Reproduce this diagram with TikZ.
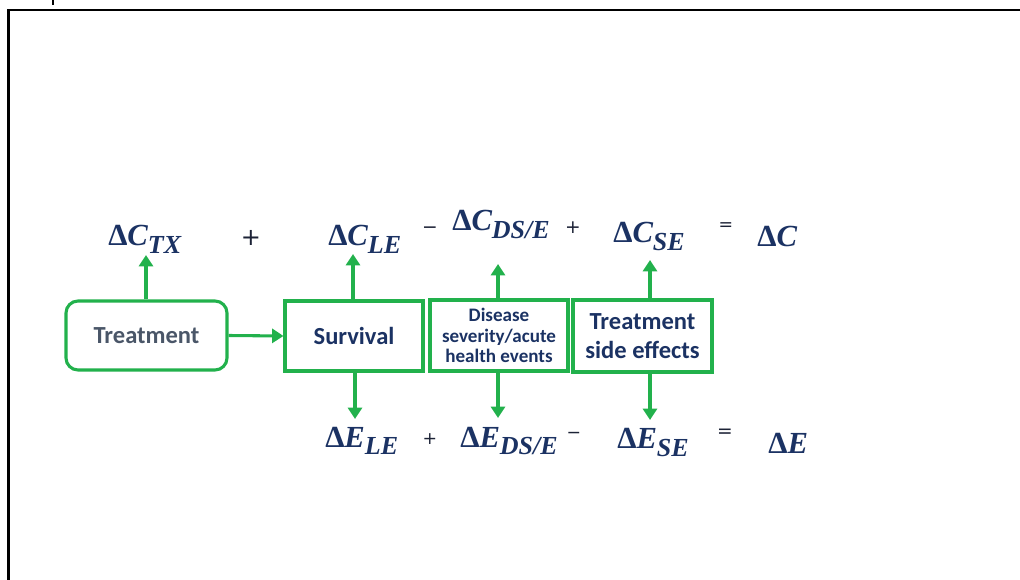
\documentclass[tikz,border=0pt]{standalone}
\usepackage{fontspec}
\setmainfont{Carlito}
\newfontfamily\lfont{Liberation Serif}
\newfontfamily\opfont{DejaVu Sans}
\usetikzlibrary{arrows.meta}
\definecolor{grn}{HTML}{22B14C}
\definecolor{navy}{HTML}{1B3263}
\definecolor{slate}{HTML}{4A5668}
\definecolor{opc}{HTML}{1C2236}
\newcommand\dlab[2]{{\lfont\bfseries\upshape Δ\itshape #1\raisebox{-5.4pt}{\fontsize{19.5}{20}\selectfont #2}}}
\begin{document}
\begin{tikzpicture}[x=0.75pt,y=-0.75pt,
 gbox/.style={draw=grn, line width=2.3pt, align=center, inner sep=0pt, font=\bfseries\fontsize{18.4}{21.8}\selectfont, text=navy},
 arr/.style={draw=grn, line width=2.3pt, -{Triangle[width=10.5pt,length=8.5pt]}},
 lab/.style={inner sep=0pt, anchor=base west, text=navy, font=\fontsize{23}{25}\selectfont},
 op/.style={inner sep=0pt, text=opc, font=\opfont\fontsize{#1}{#1}\selectfont}]
\useasboundingbox (0,0) rectangle (1020,580);
\begin{scope}
\clip (0,0) rectangle (1020,580);
\draw[line width=1.7pt] (8.5,9.8) rectangle (1040,600);
\draw[line width=1.5pt] (53,0) -- (53,5);
\end{scope}
% boxes
\node[gbox, rounded corners=9pt, minimum width=120.75pt, minimum height=51.75pt, text=slate] (tr) at (146.5,335.5) {Treatment};
\node[gbox, minimum width=103.5pt, minimum height=52.5pt] (sv) at (354,336) {Survival};
\node[gbox, minimum width=103.5pt, minimum height=53.25pt, font=\bfseries\fontsize{14.3}{15.2}\selectfont] (ds) at (499,335.5) {Disease\\severity/acute\\health events};
\node[gbox, minimum width=104.25pt, minimum height=54pt] (se) at (642.5,336) {Treatment\\side effects};
% top labels
\node[lab] (ctx) at (108,246) {\dlab{C}{TX}};
\node[lab] (cle) at (328,246) {\dlab{C}{LE}};
\node[lab] (cds) at (452,231) {\dlab{C}{DS/E}};
\node[lab] (cse) at (613,243) {\dlab{C}{SE}};
\node[lab] (ctot) at (757,247) {\dlab{C}{}};
\node[op=18] (p1) at (251,238) {+};
\node[op=14] (m1) at (430,230) {−};
\node[op=14] (p2) at (573,228) {+};
\node[op=13] (q1) at (726,227) {=};
% bottom labels
\node[lab] (ele) at (325,447) {\dlab{E}{LE}};
\node[lab] (eds) at (460,447) {\dlab{E}{DS/E}};
\node[lab] (ese) at (617,449) {\dlab{E}{SE}};
\node[lab] (etot) at (768,454) {\dlab{E}{}};
\node[op=13] (p3) at (430,439) {+};
\node[op=13] (m2) at (574,435) {−};
\node[op=14] (q2) at (725,433) {=};
% arrows
\coordinate (atx) at (146,255);
\coordinate (ale) at (353,254);
\coordinate (ads) at (498,264);
\coordinate (ase) at (650,260);
\coordinate (dle) at (355,419);
\coordinate (dds) at (498,418);
\coordinate (dse) at (650,420);
\draw[arr] (tr.north -| atx) -- (atx);
\draw[arr] (sv.north -| ale) -- (ale);
\draw[arr] (ds.north -| ads) -- (ads);
\draw[arr] (se.north -| ase) -- (ase);
\draw[arr] (sv.south -| dle) -- (dle);
\draw[arr] (ds.south -| dds) -- (dds);
\draw[arr] (se.south -| dse) -- (dse);
\draw[arr] (tr.east) -- (sv.west);
\end{tikzpicture}
\end{document}
